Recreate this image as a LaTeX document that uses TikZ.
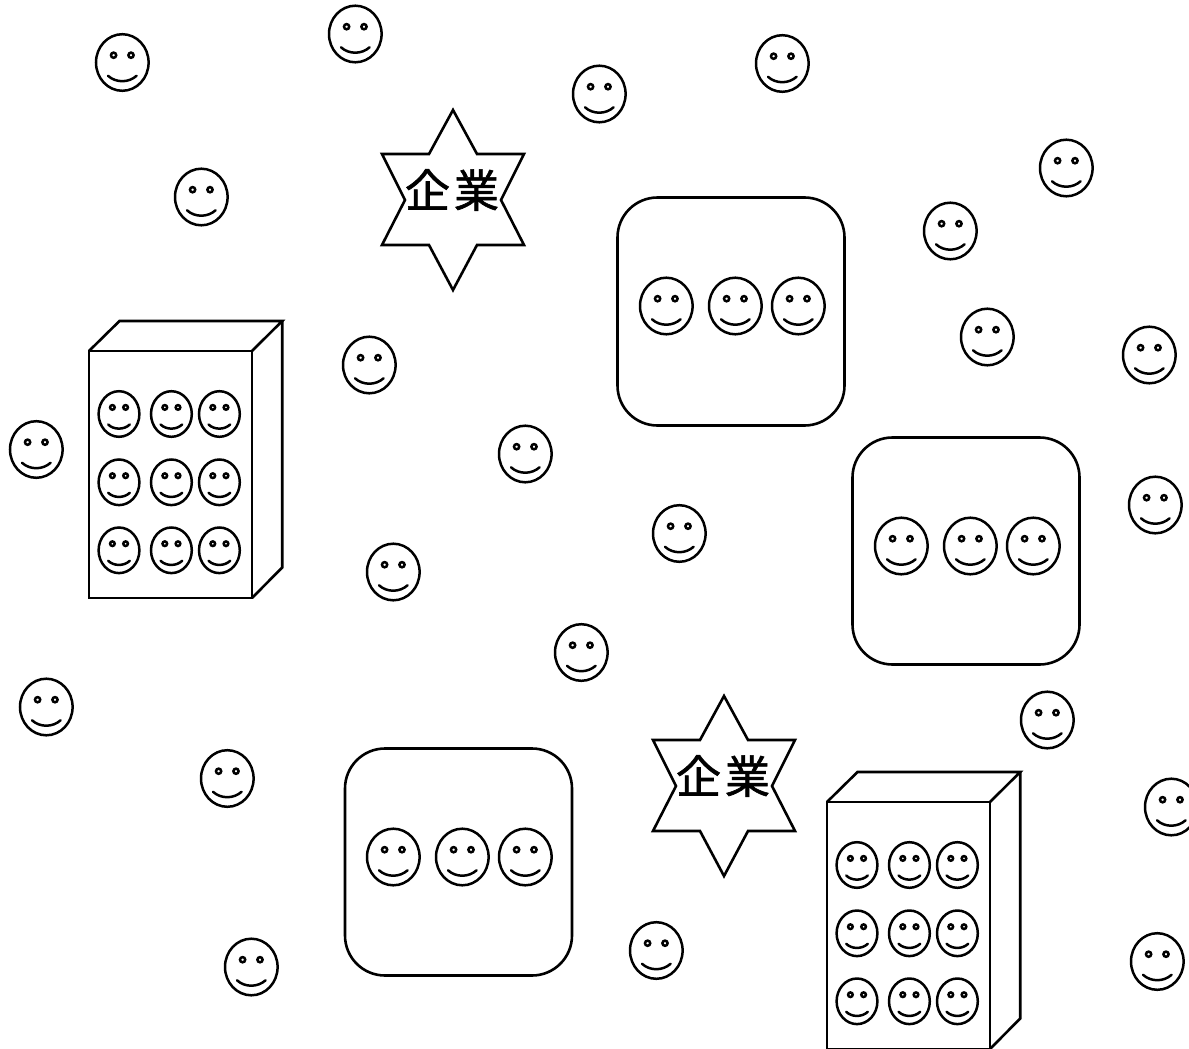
\documentclass[tikz,border=0pt]{standalone}
\usepackage{fontspec}
\newfontfamily\cjk[FakeBold=1.4]{Noto Sans CJK JP}
\tikzset{
  x=1pt,y=-1pt,
  outline/.style={draw=black,line width=2.6pt,line join=miter},
  thinline/.style={draw=black,line width=2.5pt,line cap=round},
  eyeline/.style={draw=black,line width=2.5pt},
  roomframe/.style={draw=black,line width=2.6pt,rounded corners=40pt},
  startext/.style={inner sep=0pt,font=\cjk\fontsize{45}{45}\selectfont},
  pics/face/.style={code={
    \draw[thinline] (0.3,0) ellipse [x radius=26.3,y radius=28.3];
    \draw[eyeline] (-8.4,-7.3) circle [radius=2.6];
    \draw[eyeline] (9,-7.3) circle [radius=2.6];
    \draw[thinline] (-14,13.3) .. controls (-6,20.5) and (6.5,20.5) .. (14.6,13.3);
  }},
  pics/smallface/.style={code={
    \draw[thinline] (0.2,0) ellipse [x radius=20.4,y radius=22.8];
    \draw[eyeline] (-6.4,-6.6) circle [radius=2.3];
    \draw[eyeline] (6.8,-6.6) circle [radius=2.3];
    \draw[thinline] (-10.6,10.5) .. controls (-5,16) and (5.2,16) .. (11,10.5);
  }},
  pics/building/.style={code={
    \draw[outline] (0,0) rectangle (163,247);
    \draw[outline] (0,0) -- (30.5,-30) -- (193.2,-30) -- (163,0);
    \draw[outline] (193.2,-30) -- (193.2,216.5) -- (163,247);
    \foreach \fy in {63,131.3,199.3}
      \foreach \fx in {29.8,82.2,130.2}
        \pic at (\fx,\fy) {smallface};
  }},
  pics/star/.style={code={
    \draw[outline] (0,-90) -- (24,-46) -- (71,-46) -- (48,0) -- (71,45) -- (24,45)
      -- (0,90) -- (-24,45) -- (-71,45) -- (-48,0) -- (-71,-46) -- (-24,-46) -- cycle;
  }}
}
\begin{document}
\begin{tikzpicture}
\clip (0,0) rectangle (1189,1049);
\fill[white] (0,0) rectangle (1189,1049);
% scattered faces
\foreach \cx/\cy in {122/62.5,355/34,599/94,782/63.5,1066/168,950/231,201/197,987/337,1149/355,
  369/365,525/454,36/449.5,679/533.5,1155/505,393/572,581/652.5,46/707,1047/720,227/778.5,
  1171/807,656/950.5,251/967,1157/961.5}
  \pic at (\cx,\cy) {face};
% rounded rooms
\draw[roomframe] (617.5,197.5) rectangle (844.5,425.5);
\draw[roomframe] (852.5,437.5) rectangle (1079.5,664.5);
\draw[roomframe] (345,748.5) rectangle (572,975.5);
\foreach \cx/\cy in {666/306,735/306,798/306,901/546,970/546,1033/546,393/857,462/857,525/857}
  \pic at (\cx,\cy) {face};
% buildings
\pic at (89,351) {building};
\pic at (827,802) {building};
% stars
\pic at (453,200) {star};
\pic at (724,786) {star};
\node[startext] (corpA) at (452,190) {企\kern4pt業};
\node[startext] (corpB) at (723,776) {企\kern4pt業};
\end{tikzpicture}
\end{document}
